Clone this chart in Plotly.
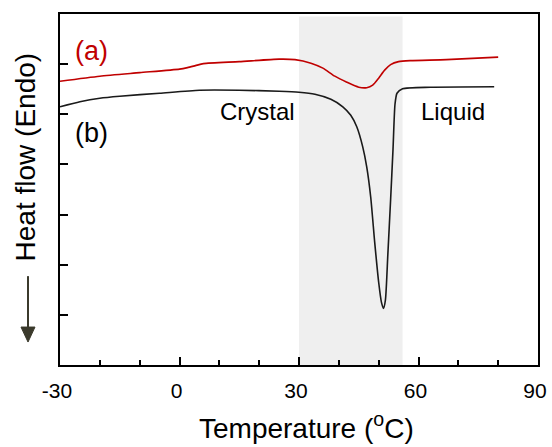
import plotly.graph_objects as go

# Curve (a) - red
temp_a = [-30, -20, -10, 0, 2, 4, 6, 15, 25, 29, 33, 36, 39, 42, 45, 47, 48.5, 50, 51.5, 53, 55, 58, 67, 80]
flow_a = [5.66, 5.76, 5.83, 5.90, 5.93, 5.97, 6.01, 6.05, 6.10, 6.09, 6.02, 5.92, 5.76, 5.64, 5.54, 5.53, 5.58, 5.72, 5.88, 5.99, 6.05, 6.07, 6.09, 6.14]

# Curve (b) - black
temp_b = [-30, -25, -20, -15, -5, 5, 15, 25, 30, 34, 38, 41, 43, 44.5, 46, 47, 48, 49, 50, 50.7, 51.2, 51.7, 52.3, 53, 53.6, 54.1, 54.6, 56, 63, 79]
flow_b = [5.15, 5.25, 5.32, 5.36, 5.42, 5.48, 5.48, 5.46, 5.44, 5.40, 5.30, 5.15, 4.98, 4.75, 4.35, 3.95, 3.35, 2.45, 1.65, 1.25, 1.13, 1.30, 2.2, 3.3, 4.3, 5.2, 5.42, 5.51, 5.54, 5.55]

x_ticks = [-30, 0, 30, 60, 90]
x_tick_labels = ["-30", "0", "30", "60", "90"]
y_ticks = [1, 2, 3, 4, 5, 6]
shade_range = [30, 56]

FONT = "Liberation Sans, Arial, sans-serif"

fig = go.Figure()
fig.add_trace(go.Scatter(x=temp_a, y=flow_a, mode="lines",
                         line=dict(color="#c00000", width=1.6, shape="spline", smoothing=0.6),
                         showlegend=False))
fig.add_trace(go.Scatter(x=temp_b, y=flow_b, mode="lines",
                         line=dict(color="#1a1a1a", width=1.6, shape="spline", smoothing=0.6),
                         showlegend=False))

fig.add_shape(type="rect", x0=shade_range[0], x1=shade_range[1], xref="x",
              y0=0, y1=0.993, yref="paper", fillcolor="#efefef", line=dict(width=0), layer="below")

# arrow next to y title
fig.add_shape(type="line", xref="paper", yref="paper", x0=-0.0669, x1=-0.0669, y0=0.2532, y1=0.105,
              line=dict(color="#3b3a2c", width=2))
fig.add_shape(type="path", xref="paper", yref="paper",
              path="M -0.0816,0.1081 L -0.0523,0.1081 L -0.0669,0.0654 Z",
              fillcolor="#3b3a2c", line=dict(color="#3b3a2c", width=1))

fig.add_annotation(text="Heat flow (Endo)", xref="paper", yref="paper", x=-0.072, y=0.593,
                   textangle=-90, showarrow=False, font=dict(family=FONT, size=28, color="black"),
                   xanchor="center", yanchor="middle")
fig.add_annotation(text="Temperature (<sup>o</sup>C)", xref="paper", yref="paper", x=0.515, y=-0.1735,
                   showarrow=False, font=dict(family=FONT, size=28, color="black"),
                   xanchor="center", yanchor="middle")

fig.add_annotation(text="(a)", x=-22.2, y=6.255, showarrow=False,
                   font=dict(family=FONT, size=27, color="#c00000"))
fig.add_annotation(text="(b)", x=-22.2, y=4.62, showarrow=False,
                   font=dict(family=FONT, size=27, color="black"))
fig.add_annotation(text="Crystal", x=19.5, y=5.06, showarrow=False,
                   font=dict(family=FONT, size=24, color="black"))
fig.add_annotation(text="Liquid", x=68.7, y=5.06, showarrow=False,
                   font=dict(family=FONT, size=24, color="black"))

fig.update_xaxes(range=[-30, 90], tickvals=x_ticks, ticktext=x_tick_labels, ticks="inside", ticklen=8, tickwidth=2,
                 tickcolor="black", showline=True, linewidth=2, linecolor="black", mirror=True,
                 showgrid=False, zeroline=False, ticklabelstandoff=6, ticklabelshift=-3, automargin=False,
                 ticklabeloverflow="allow",
                 tickfont=dict(family=FONT, size=21, color="black"),
                 minor=dict(dtick=10, tick0=-30, ticks="inside", ticklen=5, tickwidth=1.5, tickcolor="black",
                            showgrid=False))
fig.update_yaxes(range=[0, 7], tickvals=y_ticks, ticks="inside", ticklen=8, tickwidth=1.5,
                 tickcolor="black", showline=True, linewidth=2, linecolor="black", mirror=True,
                 showgrid=False, zeroline=False, showticklabels=False, automargin=False)

fig.update_layout(width=552, height=447, margin=dict(l=60, r=14, t=14, b=82, autoexpand=False),
                  plot_bgcolor="white", paper_bgcolor="white", font=dict(family=FONT))

# remove the default page margin so the figure fills the window exactly; hide the mode bar
fig.write_html("out.html", config={"displayModeBar": False},
               post_script="document.body.style.margin='0';document.body.style.overflow='hidden';")
